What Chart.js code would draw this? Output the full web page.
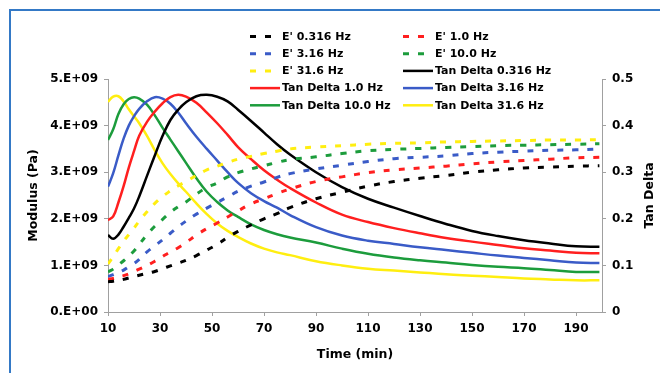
<!DOCTYPE html>
<html>
<head>
<meta charset="utf-8">
<script src="https://cdn.jsdelivr.net/npm/chart.js@4/dist/chart.umd.min.js"></script>
<style>
  html, body { margin: 0; padding: 0; background: #fff; overflow: hidden; }
  #frame {
    position: absolute; left: 9px; top: 9px; width: 700px; height: 420px;
    border-left: 2px solid #3479c6; border-top: 2px solid #3479c6;
  }
  #chart { position: absolute; left: 0; top: 0; }
</style>
</head>
<body>
<div id="frame"></div>
<canvas id="chart" width="660" height="373"></canvas>
<script>
// time axis (min)
const timeMin = [10, 12, 14, 16, 18, 20, 22, 25, 28, 31, 34, 37, 40, 44, 48, 52, 56, 60, 65, 70,
                 75, 80, 90, 100, 110, 120, 130, 140, 150, 160, 170, 180, 190, 199];

// storage modulus E' in units of 1E+09 Pa
const e0316 = [0.65, 0.66, 0.68, 0.70, 0.73, 0.76, 0.79, 0.83, 0.87, 0.93, 0.99, 1.05, 1.11, 1.21, 1.33, 1.45, 1.60, 1.73, 1.87, 2.00,
               2.11, 2.24, 2.43, 2.57, 2.70, 2.80, 2.87, 2.93, 3.00, 3.05, 3.09, 3.11, 3.13, 3.14];
const e1p0  = [0.70, 0.72, 0.75, 0.78, 0.82, 0.87, 0.92, 1.00, 1.09, 1.19, 1.29, 1.38, 1.49, 1.65, 1.79, 1.91, 2.04, 2.17, 2.32, 2.43,
               2.54, 2.64, 2.80, 2.90, 2.99, 3.05, 3.09, 3.13, 3.18, 3.22, 3.25, 3.28, 3.31, 3.32];
const e3p16 = [0.76, 0.80, 0.85, 0.90, 0.97, 1.04, 1.13, 1.29, 1.42, 1.55, 1.69, 1.83, 1.95, 2.10, 2.23, 2.35, 2.47, 2.59, 2.70, 2.79,
               2.89, 2.97, 3.07, 3.15, 3.23, 3.29, 3.32, 3.35, 3.40, 3.43, 3.45, 3.47, 3.48, 3.50];
const e10p0 = [0.86, 0.92, 1.01, 1.10, 1.20, 1.31, 1.45, 1.66, 1.84, 1.99, 2.14, 2.26, 2.36, 2.53, 2.67, 2.77, 2.90, 2.99, 3.07, 3.14,
               3.21, 3.27, 3.33, 3.40, 3.46, 3.49, 3.51, 3.53, 3.55, 3.57, 3.58, 3.59, 3.60, 3.61];
const e31p6 = [1.03, 1.19, 1.36, 1.52, 1.66, 1.80, 1.95, 2.15, 2.33, 2.48, 2.60, 2.71, 2.80, 2.93, 3.05, 3.13, 3.21, 3.28, 3.34, 3.40,
               3.45, 3.50, 3.54, 3.57, 3.60, 3.62, 3.63, 3.65, 3.66, 3.67, 3.68, 3.69, 3.69, 3.70];

// tan delta
const tan0316 = [0.165, 0.157, 0.166, 0.183, 0.202, 0.222, 0.248, 0.292, 0.336, 0.378, 0.412, 0.434, 0.450, 0.463, 0.466, 0.462, 0.452, 0.434, 0.410, 0.385,
                 0.360, 0.338, 0.300, 0.268, 0.243, 0.224, 0.206, 0.189, 0.174, 0.163, 0.154, 0.147, 0.141, 0.140];
const tan1p0  = [0.197, 0.205, 0.235, 0.270, 0.310, 0.345, 0.378, 0.408, 0.430, 0.448, 0.461, 0.466, 0.462, 0.449, 0.428, 0.405, 0.380, 0.354, 0.328, 0.304,
                 0.284, 0.266, 0.235, 0.209, 0.193, 0.180, 0.169, 0.159, 0.151, 0.144, 0.137, 0.132, 0.127, 0.126];
const tan3p16 = [0.269, 0.298, 0.336, 0.372, 0.400, 0.420, 0.436, 0.452, 0.461, 0.458, 0.447, 0.428, 0.405, 0.376, 0.350, 0.325, 0.300, 0.277, 0.255, 0.238,
                 0.224, 0.208, 0.182, 0.164, 0.153, 0.146, 0.139, 0.133, 0.127, 0.121, 0.116, 0.111, 0.106, 0.105];
const tan10p0 = [0.369, 0.392, 0.425, 0.446, 0.457, 0.461, 0.458, 0.445, 0.422, 0.395, 0.370, 0.345, 0.320, 0.287, 0.258, 0.236, 0.218, 0.204, 0.188, 0.176,
                 0.167, 0.160, 0.149, 0.136, 0.125, 0.117, 0.111, 0.106, 0.101, 0.097, 0.094, 0.090, 0.086, 0.086];
const tan31p6 = [0.451, 0.462, 0.463, 0.452, 0.435, 0.420, 0.405, 0.378, 0.347, 0.319, 0.296, 0.276, 0.258, 0.233, 0.210, 0.190, 0.174, 0.161, 0.147, 0.136,
                 0.128, 0.122, 0.109, 0.100, 0.093, 0.089, 0.085, 0.081, 0.078, 0.075, 0.072, 0.070, 0.068, 0.068];

// tick labels
const xTickValues = [10, 30, 50, 70, 90, 110, 130, 150, 170, 190];
const modulusTickLabels = ['0.E+00', '1.E+09', '2.E+09', '3.E+09', '4.E+09', '5.E+09'];
const tanTickLabels = ['0', '0.1', '0.2', '0.3', '0.4', '0.5'];

const BLACK = '#000000', RED = '#ff1f1f', BLUE = '#3a5bc7', GREEN = '#1c9c3c', YELLOW = '#ffee10';
const FONT = 'DejaVu Sans';
const axisColor = '#a0a0a0';

function pts(values) {
    return timeMin.map((t, i) => ({ x: t, y: values[i] }));
}

function modulusSet(label, values, color) {
    return {
        label: label, data: pts(values), yAxisID: 'y',
        borderColor: color, backgroundColor: color,
        borderWidth: 3, borderDash: [6, 9],
        pointRadius: 0, tension: 0.4
    };
}

function tanSet(label, values, color) {
    return {
        label: label, data: pts(values), yAxisID: 'y1',
        borderColor: color, backgroundColor: color,
        borderWidth: 2.5,
        pointRadius: 0, tension: 0.4
    };
}

// Legend drawn in two columns over the top of the plot, plus the right title
const gridLegend = {
    id: 'gridLegend',
    afterDraw(chart) {
        const ctx = chart.ctx;
        ctx.save();
        ctx.font = 'bold 11px "' + FONT + '"';
        ctx.textBaseline = 'middle';
        chart.data.datasets.forEach((ds, i) => {
            const x = 250 + (i % 2) * 153;
            const y = 36.5 + Math.floor(i / 2) * 17.2;
            ctx.beginPath();
            ctx.setLineDash(ds.borderDash || []);
            ctx.lineWidth = ds.borderWidth;
            ctx.strokeStyle = ds.borderColor;
            ctx.moveTo(x, y);
            ctx.lineTo(x + 30, y);
            ctx.stroke();
            ctx.setLineDash([]);
            ctx.fillStyle = '#000';
            ctx.fillText(ds.label, x + 32, y + 0.5);
        });

        const area = chart.chartArea;
        ctx.translate(650, (area.top + area.bottom) / 2);
        ctx.rotate(-Math.PI / 2);
        ctx.textAlign = 'center';
        ctx.font = 'bold 12.5px "' + FONT + '"';
        ctx.fillText('Tan Delta', 0, 0);
        ctx.restore();
    }
};

const tickFont = { family: FONT, size: 12, weight: 'bold' };
const titleFont = { family: FONT, size: 12.5, weight: 'bold' };

new Chart(document.getElementById('chart'), {
    type: 'line',
    data: {
        datasets: [
            modulusSet("E' 0.316 Hz", e0316, BLACK),
            modulusSet("E' 1.0 Hz", e1p0, RED),
            modulusSet("E' 3.16 Hz", e3p16, BLUE),
            modulusSet("E' 10.0 Hz", e10p0, GREEN),
            modulusSet("E' 31.6 Hz", e31p6, YELLOW),
            tanSet('Tan Delta 0.316 Hz', tan0316, BLACK),
            tanSet('Tan Delta 1.0 Hz', tan1p0, RED),
            tanSet('Tan Delta 3.16 Hz', tan3p16, BLUE),
            tanSet('Tan Delta 10.0 Hz', tan10p0, GREEN),
            tanSet('Tan Delta 31.6 Hz', tan31p6, YELLOW)
        ]
    },
    options: {
        responsive: false,
        animation: false,
        devicePixelRatio: 1,
        layout: { padding: { top: 79, left: 0, right: 0, bottom: 0 } },
        plugins: {
            legend: { display: false },
            tooltip: { enabled: false }
        },
        scales: {
            x: {
                type: 'linear', position: 'bottom', min: 10, max: 200,
                afterBuildTicks: function(scale) { scale.ticks = xTickValues.map(v => ({ value: v })); },
                afterFit: function(scale) { scale.height = 61; },
                grid: { drawOnChartArea: false, color: axisColor, tickLength: 4 },
                border: { color: axisColor },
                ticks: { font: tickFont, color: '#000', padding: 6, maxRotation: 0, autoSkip: false },
                title: { display: true, text: 'Time (min)', font: titleFont, color: '#000', padding: { top: 0, bottom: 11 } }
            },
            y: {
                position: 'left', min: 0, max: 5,
                afterFit: function(scale) { scale.width = 108; },
                grid: { drawOnChartArea: false, color: axisColor, tickLength: 4 },
                border: { color: axisColor },
                ticks: {
                    stepSize: 1, font: tickFont, color: '#000', padding: 6,
                    callback: function(value, index) { return modulusTickLabels[index]; }
                },
                title: { display: true, text: 'Modulus (Pa)', font: titleFont, color: '#000', padding: { top: 26, bottom: 0 } }
            },
            y1: {
                position: 'right', min: 0, max: 0.5,
                afterFit: function(scale) { scale.width = 58; },
                grid: { drawOnChartArea: false, color: axisColor, tickLength: 4 },
                border: { color: axisColor },
                ticks: {
                    stepSize: 0.1, font: tickFont, color: '#000', padding: 6,
                    callback: function(value, index) { return tanTickLabels[index]; }
                }
            }
        }
    },
    plugins: [gridLegend]
});
</script>
</body>
</html>
